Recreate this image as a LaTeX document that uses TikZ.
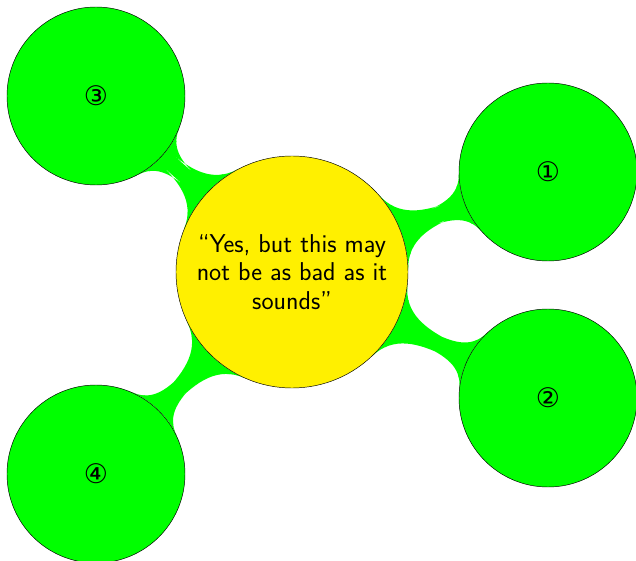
\documentclass[tikz,border=0pt]{standalone}
\usepackage{fontspec}
\newfontfamily\symfont{DejaVu Sans}
\usetikzlibrary{mindmap,backgrounds}
\definecolor{rootyellow}{RGB}{255,240,0}

\begin{document}
\begin{tikzpicture}[scale=1,
  root/.style={circle,draw=black,fill=rootyellow,minimum size=6.96cm,inner sep=0pt,align=center,font=\sffamily\fontsize{22}{24.3}\selectfont},
  idea/.style={circle,draw=black,fill=green,minimum size=5.34cm,inner sep=0pt,font=\symfont\fontsize{23}{26}\selectfont},
  bar/.style={line width=0.45cm,circle connection bar switch color=from (green) to (green)}]
\useasboundingbox (-8.76,-8.67) rectangle (10.32,8.16);
\node[root] (R) at (0,0) {“Yes, but this may\\not be as bad as it\\sounds”};
\node[idea] (A) at (7.68,3.0) {①};
\node[idea] (B) at (7.68,-3.78) {②};
\node[idea] (C) at (-5.88,5.28) {③};
\node[idea] (D) at (-5.88,-6.06) {④};
\begin{scope}[on background layer]
\path (R) to[bar] (A);
\path (R) to[bar] (B);
\path (R) to[bar] (C);
\path (R) to[bar] (D);
\end{scope}
\end{tikzpicture}
\end{document}
